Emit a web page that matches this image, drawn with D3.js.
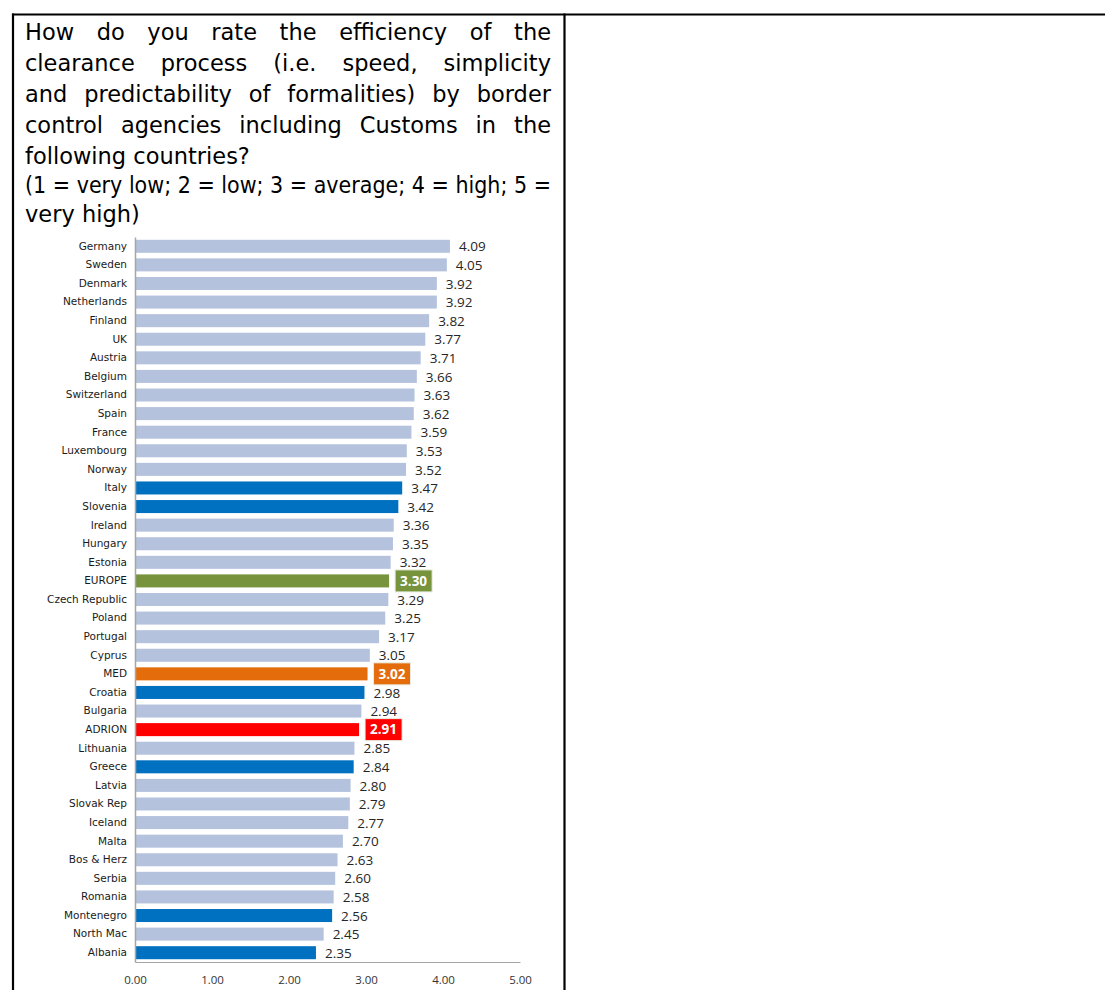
<!DOCTYPE html>
<html>
<head>
<meta charset="utf-8">
<script src="https://cdn.jsdelivr.net/npm/d3@7/dist/d3.min.js"></script>
<style>
  html, body { margin: 0; padding: 0; background: #ffffff; }
  svg { display: block; }
</style>
</head>
<body>
<svg id="chart" width="1105" height="990"></svg>
<script>
// Survey question, one array per paragraph (each entry is one printed line)
const questionLines = [
  "How do you rate the efficiency of the",
  "clearance process (i.e. speed, simplicity",
  "and predictability of formalities) by border",
  "control agencies including Customs in the",
  "following countries?"
];
const scaleLines = [
  "(1 = very low; 2 = low; 3 = average; 4 = high; 5 =",
  "very high)"
];

// Countries / aggregates, top to bottom
const countries = [
  "Germany", "Sweden", "Denmark", "Netherlands", "Finland", "UK", "Austria",
  "Belgium", "Switzerland", "Spain", "France", "Luxembourg", "Norway", "Italy",
  "Slovenia", "Ireland", "Hungary", "Estonia", "EUROPE", "Czech Republic",
  "Poland", "Portugal", "Cyprus", "MED", "Croatia", "Bulgaria", "ADRION",
  "Lithuania", "Greece", "Latvia", "Slovak Rep", "Iceland", "Malta",
  "Bos & Herz", "Serbia", "Romania", "Montenegro", "North Mac", "Albania"
];
const ratings = [
  4.09, 4.05, 3.92, 3.92, 3.82, 3.77, 3.71,
  3.66, 3.63, 3.62, 3.59, 3.53, 3.52, 3.47,
  3.42, 3.36, 3.35, 3.32, 3.30, 3.29,
  3.25, 3.17, 3.05, 3.02, 2.98, 2.94, 2.91,
  2.85, 2.84, 2.80, 2.79, 2.77, 2.70,
  2.63, 2.60, 2.58, 2.56, 2.45, 2.35
];
// Group of each row: "other", "adrion" (ADRION member state), or an aggregate
const groups = [
  "other", "other", "other", "other", "other", "other", "other",
  "other", "other", "other", "other", "other", "other", "adrion",
  "adrion", "other", "other", "other", "europe", "other",
  "other", "other", "other", "med", "adrion", "other", "adrionAvg",
  "other", "adrion", "other", "other", "other", "other",
  "other", "other", "other", "adrion", "other", "adrion"
];
const xTicks = [0, 1, 2, 3, 4, 5];

const groupColor = {
  other: "#B4C2DE",
  adrion: "#0070C0",
  europe: "#77933C",
  med: "#E46C0A",
  adrionAvg: "#FF0000"
};
const boxed = new Set(["europe", "med", "adrionAvg"]);

const rows = countries.map((c, i) => ({ name: c, value: ratings[i], group: groups[i] }));

const svg = d3.select("#chart");

// ---- table frame ----
const frame = svg.append("g").attr("stroke", "#000").attr("stroke-width", 2.2);
frame.append("line").attr("x1", 12).attr("x2", 1105).attr("y1", 14.5).attr("y2", 14.5);
frame.append("line").attr("x1", 13).attr("x2", 13).attr("y1", 13.5).attr("y2", 990);
frame.append("line").attr("x1", 564.5).attr("x2", 564.5).attr("y1", 13.5).attr("y2", 990);

// ---- question text, justified with word spacing ----
const titleFont = "'DejaVu Sans', Verdana, sans-serif";
const textLeft = 25, textRight = 551;
const title = svg.append("g")
  .attr("font-family", titleFont)
  .attr("font-size", 22.5)
  .attr("fill", "#000");

function drawParagraph(lines, baselines) {
  lines.forEach((line, li) => {
    const last = li === lines.length - 1;
    const t = title.append("text").attr("x", textLeft).attr("y", baselines[li]).text(line);
    if (last) return;
    const natural = t.node().getComputedTextLength();
    const spaces = line.split(" ").length - 1;
    const extra = (textRight - textLeft - natural) / spaces;
    if (extra >= 0) {
      t.attr("word-spacing", extra);
    } else {
      t.attr("textLength", textRight - textLeft).attr("lengthAdjust", "spacingAndGlyphs");
    }
  });
}
drawParagraph(questionLines, [40, 71, 102, 133, 164]);
drawParagraph(scaleLines, [193, 222]);

// ---- bar chart ----
const x = d3.scaleLinear().domain([0, 5]).range([135, 520]);
const y = d3.scaleBand().domain(countries).range([237, 962]).paddingInner(0.3).paddingOuter(0.15);

// bars
svg.append("g").selectAll("rect")
  .data(rows)
  .join("rect")
  .attr("x", x(0))
  .attr("y", d => y(d.name))
  .attr("width", d => x(d.value) - x(0))
  .attr("height", y.bandwidth())
  .attr("fill", d => groupColor[d.group]);

// category axis
const yAxis = svg.append("g")
  .attr("transform", `translate(${x(0)},0)`)
  .call(d3.axisLeft(y).tickSize(0).tickPadding(8));
yAxis.select(".domain").attr("stroke", "#A6A6A6").attr("stroke-width", 1.5);
yAxis.selectAll("text")
  .attr("font-family", "'DejaVu Sans', sans-serif")
  .attr("font-size", 10.5)
  .attr("fill", "#1a1a1a");

// value axis
const xAxis = svg.append("g")
  .attr("transform", `translate(0,962)`)
  .call(d3.axisBottom(x).tickValues(xTicks).tickFormat(d3.format(".2f")).tickSize(0).tickPadding(14));
xAxis.select(".domain").attr("stroke", "#A6A6A6").attr("stroke-width", 1.2);
xAxis.selectAll("text")
  .attr("font-family", "'Open Sans', sans-serif")
  .attr("font-size", 11.5)
  .attr("fill", "#333");

// value labels
const labelFont = "'Open Sans', sans-serif";
const plain = rows.filter(d => !boxed.has(d.group));
svg.append("g").selectAll("text")
  .data(plain)
  .join("text")
  .attr("x", d => x(d.value) + 9)
  .attr("y", d => y(d.name) + y.bandwidth() / 2)
  .attr("dy", "0.38em")
  .attr("font-family", labelFont)
  .attr("font-size", 13.5)
  .attr("fill", "#262626")
  .text(d => d3.format(".2f")(d.value));

// aggregate labels in coloured boxes
const boxW = 37, boxH = 22;
const boxes = svg.append("g").selectAll("g")
  .data(rows.filter(d => boxed.has(d.group)))
  .join("g")
  .attr("transform", d => `translate(${x(d.value) + 6},${y(d.name) + y.bandwidth() / 2 - boxH / 2})`);
boxes.append("rect")
  .attr("width", boxW)
  .attr("height", boxH)
  .attr("fill", d => groupColor[d.group])
  .attr("stroke", "#E8ECE0")
  .attr("stroke-width", 1);
boxes.append("text")
  .attr("x", boxW / 2)
  .attr("y", boxH / 2)
  .attr("dy", "0.36em")
  .attr("text-anchor", "middle")
  .attr("font-family", labelFont)
  .attr("font-size", 13.5)
  .attr("font-weight", "bold")
  .attr("fill", "#fff")
  .text(d => d3.format(".2f")(d.value));
</script>
</body>
</html>
